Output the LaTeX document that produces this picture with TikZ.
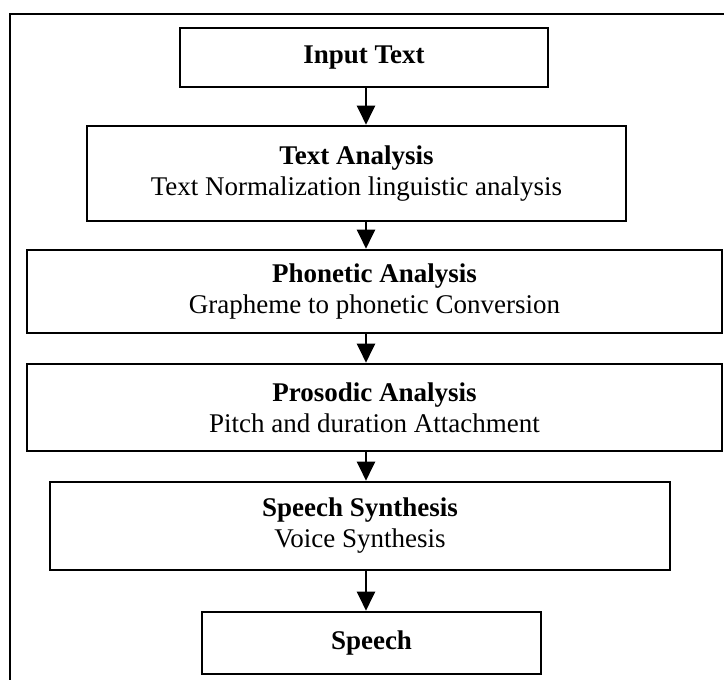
\documentclass[tikz,border=0pt]{standalone}
\usepackage{fontspec}
\setmainfont{Liberation Serif}
\usetikzlibrary{arrows.meta}

\begin{document}
\begin{tikzpicture}
[x=0.5pt, y=-0.5pt,
 every node/.style={align=center, font=\fontsize{13.5}{15.5}\selectfont},
 stage/.style={draw, line width=1.3pt, inner sep=0pt},
 flow/.style={line width=1.1pt, -{Triangle[length=9.5pt, width=9pt]}}
]
\useasboundingbox (0,0) rectangle (724,680);
% page frame
\draw[line width=1.2pt] (10,680) -- (10,14) -- (724,14);
\coordinate (col) at (366,0);
\node[stage, minimum width=184pt, minimum height=29.5pt]
  (in) at (364, 57.5) {\textbf{Input Text}};
\node[stage, minimum width=269.5pt, minimum height=47.5pt]
  (ta) at (356.5, 173.5) {\textbf{Text Analysis}\\ Text Normalization linguistic analysis};
\node[stage, minimum width=347.5pt, minimum height=41.5pt]
  (pa) at (374.5, 291.5) {\textbf{Phonetic Analysis}\\ Grapheme to phonetic Conversion};
\node[stage, minimum width=347.5pt, minimum height=43.5pt]
  (pr) at (374.5, 407.5) {\textbf{Prosodic Analysis}\\ Pitch and duration Attachment};
\node[stage, minimum width=310pt, minimum height=44pt]
  (ss) at (360, 526) {\textbf{Speech Synthesis}\\ Voice Synthesis};
\node[stage, minimum width=169.5pt, minimum height=31pt]
  (sp) at (371.5, 643) {\textbf{Speech}};
\draw[flow] (in.south -| col) -- (ta.north -| col);
\draw[flow] (ta.south -| col) -- (pa.north -| col);
\draw[flow] (pa.south -| col) -- (pr.north -| col);
\draw[flow] (pr.south -| col) -- (ss.north -| col);
\draw[flow] (ss.south -| col) -- (sp.north -| col);
\end{tikzpicture}
\end{document}
